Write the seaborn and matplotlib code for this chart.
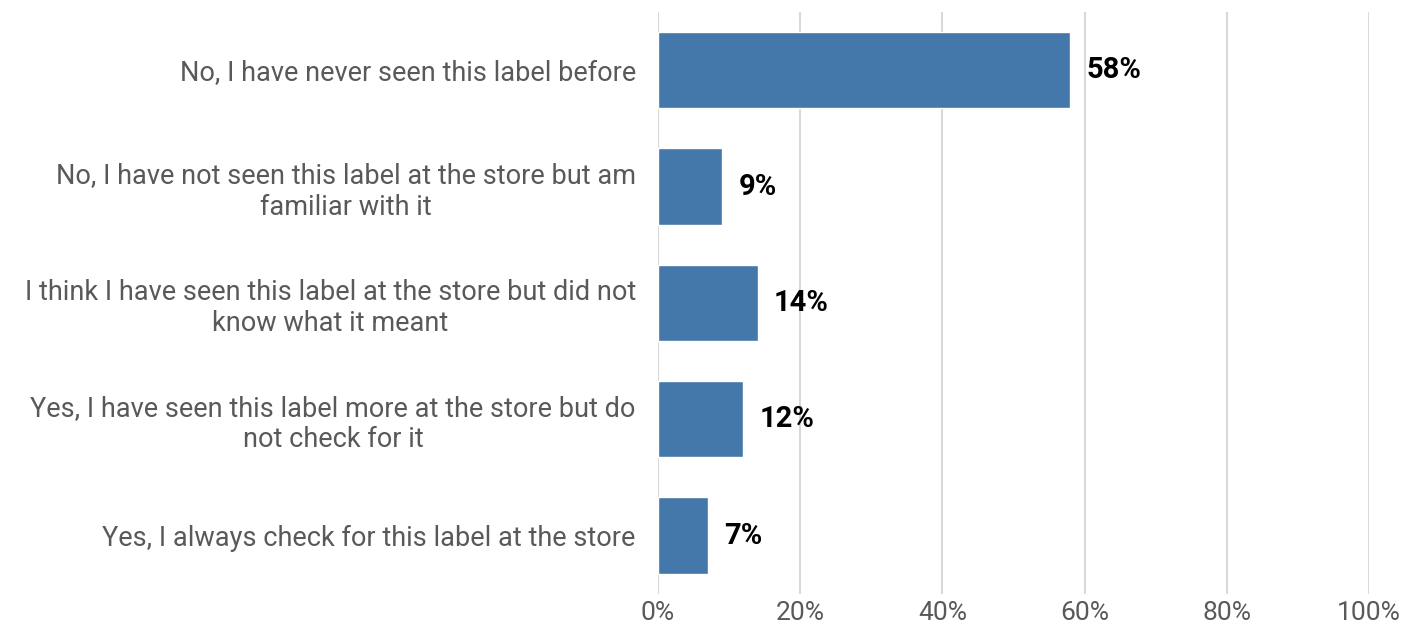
import matplotlib
matplotlib.use("Agg")
import matplotlib.pyplot as plt
import seaborn as sns
import pandas as pd
from matplotlib.ticker import PercentFormatter

categories = [
    "No, I have never seen this label before",
    "No, I have not seen this label at the store but am\nfamiliar with it",
    "I think I have seen this label at the store but did not\nknow what it meant",
    "Yes, I have seen this label more at the store but do\nnot check for it",
    "Yes, I always check for this label at the store",
]
values = [58, 9, 14, 12, 7]
tick_values = [0, 20, 40, 60, 80, 100]

df = pd.DataFrame({"answer": categories, "share": values})

sns.set_theme(style="white")
plt.rcParams["font.family"] = ["Roboto", "DejaVu Sans"]

fig = plt.figure(figsize=(14.2, 6.33), dpi=100)
ax = fig.add_axes([0.4634, 0.062, 0.5007, 0.919])

sns.barplot(data=df, y="answer", x="share", orient="h", color="#4477AA",
            saturation=1, width=0.655, ax=ax, zorder=3)

ax.set_xlim(0, 100)
ax.set_xticks(tick_values)
ax.xaxis.set_major_formatter(PercentFormatter(decimals=0))
ax.grid(axis="x", color="#D9D9D9", linewidth=1.5, zorder=0)
ax.grid(axis="y", visible=False)
for s in ax.spines.values():
    s.set_visible(False)
ax.set_xlabel("")
ax.set_ylabel("")
ax.tick_params(axis="x", labelsize=19, labelcolor="#595959", length=0, pad=5)
ax.tick_params(axis="y", labelsize=19.5, labelcolor="#595959", length=0, pad=16)
for lab in ax.get_yticklabels():
    lab.set_multialignment("center")

for i, v in enumerate(values):
    ax.text(v + 2.3, i, f"{v}%", va="center", ha="left",
            fontsize=21, fontweight="bold", color="black")

fig.savefig("out.png", dpi=100)
